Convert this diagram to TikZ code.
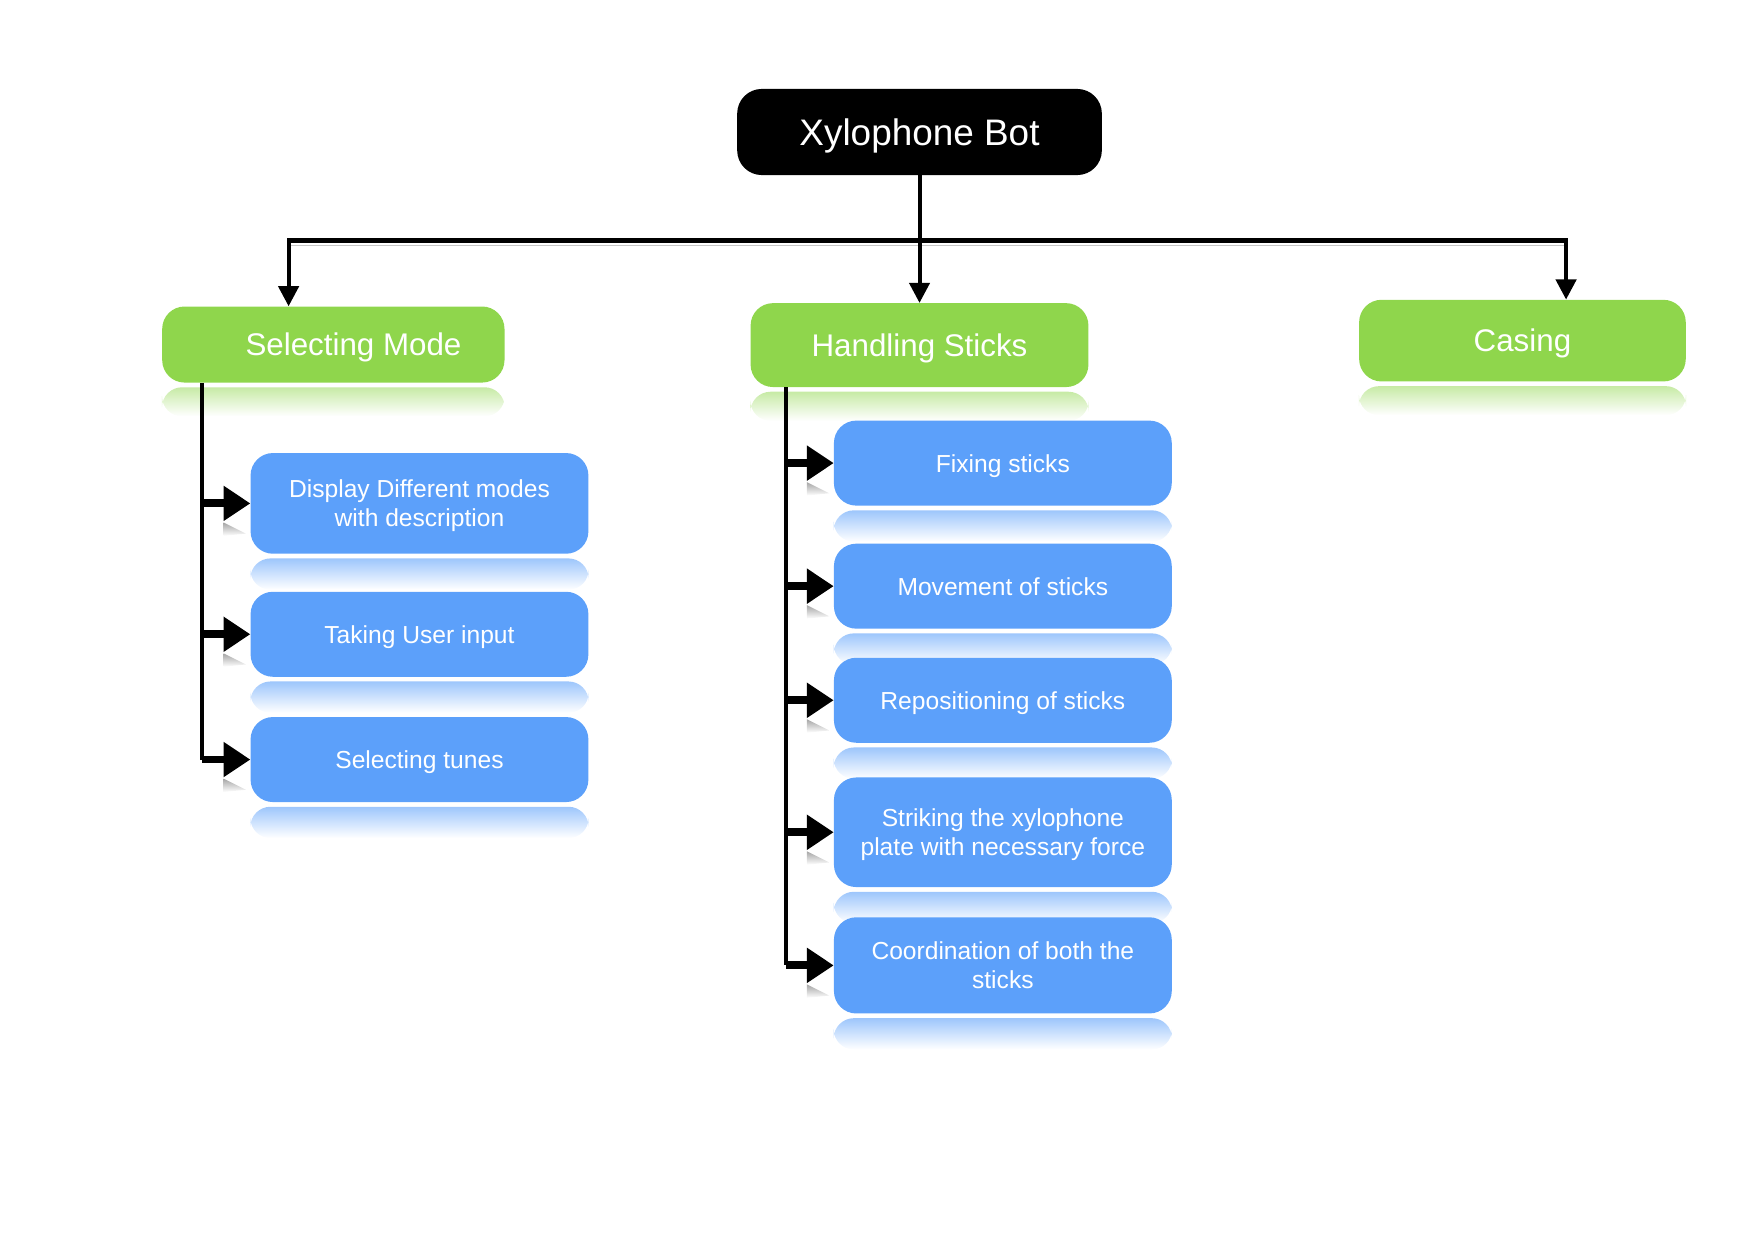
\documentclass[tikz,border=0pt]{standalone}
\usepackage{fontspec}
\setmainfont{Liberation Sans}
\usepackage{tikz}
\usetikzlibrary{arrows.meta,backgrounds}
\definecolor{leafgreen}{RGB}{143,214,76}
\definecolor{skyblue}{RGB}{92,160,250}

\begin{document}
\begin{tikzpicture}[x=1pt,y=-1pt,
    root/.style={fill=black, text=white, rounded corners=22pt, minimum width=326pt, minimum height=77pt, inner sep=0pt, text depth=0pt, font=\fontsize{33}{38}\selectfont},
    part/.style={fill=leafgreen, text=white, rounded corners=20pt, inner sep=0pt, text depth=0pt, font=\fontsize{28}{32}\selectfont},
    task/.style={fill=skyblue, text=white, rounded corners=20pt, minimum width=302pt, minimum height=76pt, inner sep=0pt, text depth=0pt, align=center, font=\fontsize{22}{26}\selectfont},
    bus/.style={line width=3.6pt, -{Triangle[length=18pt,width=18pt]}},
    trunk/.style={line width=4pt},
    branch/.style={line width=7pt, -{Triangle[length=24pt,width=30pt]}}]
            \useasboundingbox (0,0) rectangle (1568,1108);

            \node[root] at (822,118) (bot) {Xylophone Bot};
            \node[part, minimum width=306pt, minimum height=68pt] at (298,308) (mode) {\hspace*{36pt}Selecting Mode};
            \node[part, minimum width=302pt, minimum height=75pt] at (822,308.5) (sticks) {Handling Sticks};
            \node[part, minimum width=292pt, minimum height=73pt] at (1361,304.5) (casing) {Casing};

            \node[task, minimum height=90pt] at (375,450) (m1) {Display Different modes\\with description};
            \node[task] at (375,567) (m2) {Taking User input};
            \node[task] at (375,679) (m3) {Selecting tunes};

            \node[task] at (896.5,414) (s1) {Fixing sticks};
            \node[task] at (896.5,524) (s2) {Movement of sticks};
            \node[task] at (896.5,626) (s3) {Repositioning of sticks};
            \node[task, minimum height=98pt] at (896.5,744) (s4) {Striking the xylophone\\plate with necessary force};
            \node[task, minimum height=86pt] at (896.5,863) (s5) {Coordination of both the\\sticks};

            % reflections under the boxes
            \begin{scope}[on background layer]
                \foreach \n in {mode,sticks,casing}
                    \shade[top color=leafgreen!50!white, bottom color=white, rounded corners=18pt] ([shift={(0,4)}]\n.south west) rectangle ([shift={(0,30)}]\n.south east);
                \foreach \n in {m1,m2,m3,s1,s2,s3,s4,s5}
                    \shade[top color=skyblue!60!white, bottom color=white, rounded corners=18pt] ([shift={(0,4)}]\n.south west) rectangle ([shift={(0,32)}]\n.south east);
                \foreach \n in {m1,m2,m3,s1,s2,s3,s4,s5}
                    \shade[top color=gray!70, bottom color=white] ([shift={(-24,17)}]\n.west) -- ([shift={(-4,27)}]\n.west) -- ([shift={(-24,29)}]\n.west) -- cycle;
            \end{scope}

            \coordinate (hubl) at (258,215);
            \coordinate (hubr) at (1400,215);
            \draw[gray!45, line width=1.6pt] ([shift={(0,4.5)}]hubl) -- ([shift={(0,4.5)}]hubr);
            \draw[bus] (bot.south) -- (sticks.north);
            \draw[bus] (bot.south) |- (hubl) -- (hubl |- mode.north);
            \draw[bus] (bot.south) |- (hubr) -- (hubr |- casing.north);

            \coordinate (mt) at ([xshift=36pt]mode.south west);
            \draw[trunk] (mt) -- (mt |- m3.west);
            \draw[branch] (mt |- m1.west) -- (m1.west);
            \draw[branch] (mt |- m2.west) -- (m2.west);
            \draw[branch] (mt |- m3.west) -- (m3.west);

            \coordinate (st) at ([xshift=32pt]sticks.south west);
            \draw[trunk] (st) -- (st |- s5.west);
            \draw[branch] (st |- s1.west) -- (s1.west);
            \draw[branch] (st |- s2.west) -- (s2.west);
            \draw[branch] (st |- s3.west) -- (s3.west);
            \draw[branch] (st |- s4.west) -- (s4.west);
            \draw[branch] (st |- s5.west) -- (s5.west);
    \end{tikzpicture}
\end{document}
